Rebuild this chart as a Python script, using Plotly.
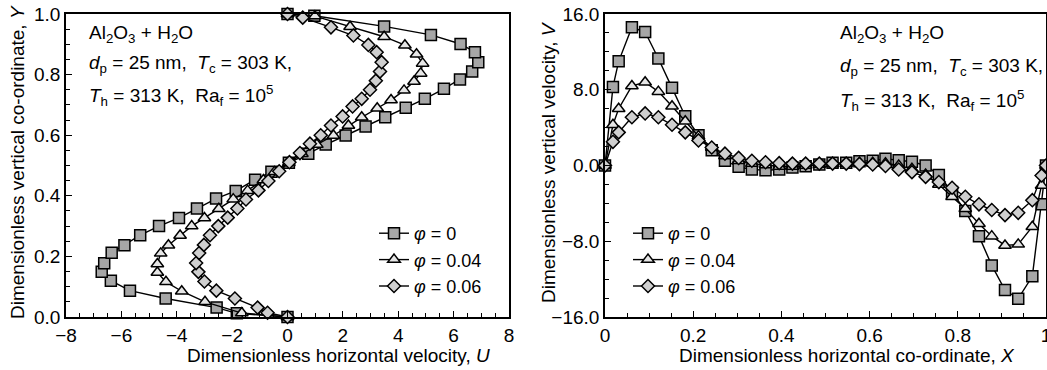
import plotly.graph_objects as go

# ---------------- Left panel: U vs Y ----------------
Y_sq = [0, 0.012, 0.031, 0.061, 0.087, 0.12, 0.149, 0.177, 0.212, 0.237, 0.27, 0.30, 0.327, 0.358, 0.391,
        0.416, 0.453, 0.479, 0.509, 0.539, 0.569, 0.599, 0.629, 0.659, 0.691, 0.72, 0.753, 0.784, 0.81,
        0.841, 0.874, 0.901, 0.931, 0.959, 0.994, 1.0]
U_sq = [0, -1.83, -2.56, -4.40, -5.69, -6.38, -6.71, -6.62, -6.35, -5.89, -5.32, -4.64, -3.92, -3.27, -2.58,
        -1.87, -1.17, -0.58, 0.05, 0.75, 1.38, 2.10, 2.82, 3.53, 4.27, 4.96, 5.65, 6.23, 6.67,
        6.89, 6.77, 6.25, 5.18, 3.49, 0.97, 0]

Y_tr = [0, 0.013, 0.05, 0.085, 0.116, 0.147, 0.175, 0.21, 0.237, 0.269, 0.30, 0.327, 0.357, 0.389, 0.417,
        0.452, 0.479, 0.509, 0.539, 0.569, 0.599, 0.632, 0.659, 0.689, 0.716, 0.748, 0.777, 0.804, 0.837,
        0.867, 0.897, 0.925, 0.958, 0.993, 1.0]
U_tr = [0, -1.65, -2.98, -3.82, -4.39, -4.70, -4.70, -4.58, -4.30, -3.88, -3.46, -3.00, -2.48, -1.96, -1.44,
        -0.87, -0.47, 0.05, 0.52, 1.06, 1.66, 2.20, 2.68, 3.24, 3.74, 4.21, 4.57, 4.81, 4.88,
        4.66, 4.24, 3.49, 2.26, 0.99, 0]

Y_di = [0, 0.014, 0.031, 0.061, 0.087, 0.117, 0.149, 0.178, 0.211, 0.238, 0.27, 0.30, 0.328, 0.358, 0.388,
        0.418, 0.449, 0.481, 0.511, 0.541, 0.572, 0.60, 0.632, 0.662, 0.695, 0.72, 0.75, 0.78, 0.81,
        0.841, 0.874, 0.898, 0.929, 0.956, 0.988, 1.0]
U_di = [0, -0.72, -1.08, -1.90, -2.57, -3.00, -3.22, -3.30, -3.19, -3.02, -2.80, -2.50, -2.16, -1.81, -1.50,
        -1.05, -0.69, -0.30, 0.07, 0.45, 0.81, 1.20, 1.57, 1.99, 2.35, 2.68, 2.98, 3.19, 3.34,
        3.40, 3.22, 2.92, 2.38, 1.57, 0.55, 0]

# ---------------- Right panel: X vs V ----------------
X_grid = [0, 0.018, 0.031, 0.061, 0.091, 0.121, 0.152, 0.182, 0.212, 0.242, 0.272, 0.303, 0.333, 0.364,
          0.395, 0.425, 0.455, 0.486, 0.516, 0.547, 0.577, 0.607, 0.636, 0.666, 0.696, 0.727, 0.757,
          0.787, 0.817, 0.848, 0.877, 0.907, 0.937, 0.969, 0.99, 1.0]
V_sq = [0, 8.3, 11.0, 14.6, 14.1, 11.3, 8.2, 5.2, 3.2, 1.6, 0.5, -0.14, -0.42, -0.5,
        -0.42, -0.2, -0.07, 0.1, 0.28, 0.28, 0.46, 0.5, 0.7, 0.56, 0.39, 0.0, -1.0,
        -2.8, -4.8, -7.46, -10.55, -13.15, -14.06, -11.7, -4.1, 0]
V_tr = [0, 4.3, 6.0, 8.4, 8.8, 7.8, 6.26, 4.67, 3.1, 1.9, 1.0, 0.5, 0.2, 0.05,
        -0.1, -0.1, 0.0, 0.1, 0.15, 0.2, 0.3, 0.3, 0.25, 0.0, -0.35, -0.95, -2.0,
        -3.3, -4.57, -6.15, -7.46, -8.44, -8.33, -6.47, -2.1, 0]
V_di = [0, 2.5, 3.5, 5.1, 5.5, 5.1, 4.3, 3.5, 2.65, 1.9, 1.25, 0.8, 0.5, 0.35,
        0.25, 0.2, 0.2, 0.2, 0.2, 0.2, 0.15, 0.1, -0.05, -0.42, -0.7, -1.2, -1.75,
        -2.35, -3.3, -4.1, -4.7, -5.24, -5.0, -3.66, -1.05, 0]

names = ["<i>φ</i> = 0", "<i>φ</i> = 0.04", "<i>φ</i> = 0.06"]
symbols = ["square", "triangle-up", "diamond"]
fills = ["#a6a6a6", "#e6e6e6", "#cfcfcf"]
sizes = [11, 11, 10]

FONT = "Liberation Sans, Arial, sans-serif"
W, H = 1047, 370

fig = go.Figure()

left_data = [(U_sq, Y_sq), (U_tr, Y_tr), (U_di, Y_di)]
right_data = [V_sq, V_tr, V_di]

for i in range(3):
    xs, ys = left_data[i]
    fig.add_trace(go.Scatter(
        x=xs, y=ys, mode="lines+markers", name=names[i], legend="legend",
        line=dict(color="black", width=1.4),
        marker=dict(symbol=symbols[i], size=sizes[i], color=fills[i], line=dict(color="black", width=1.5)),
        xaxis="x", yaxis="y", cliponaxis=False))

for i in range(3):
    fig.add_trace(go.Scatter(
        x=X_grid, y=right_data[i], mode="lines+markers", name=names[i], legend="legend2",
        line=dict(color="black", width=1.4),
        marker=dict(symbol=symbols[i], size=sizes[i], color=fills[i], line=dict(color="black", width=1.5)),
        xaxis="x2", yaxis="y2", cliponaxis=False))

ydom = [1 - 317 / H, 1 - 14 / H]
axis_common = dict(showline=True, linecolor="black", linewidth=1.5, mirror=True, ticks="inside",
                   ticklen=6, tickwidth=1.2, tickcolor="black", showgrid=False, zeroline=False,
                   tickfont=dict(family=FONT, size=19, color="black"), automargin=False,
                   ticklabeloverflow="allow")
legend_common = dict(xanchor="left", yanchor="top", bgcolor="rgba(0,0,0,0)",
                     font=dict(family=FONT, size=18, color="black"), itemwidth=30)

fig.update_layout(
    width=W, height=H, margin=dict(l=0, r=0, t=0, b=0),
    paper_bgcolor="white", plot_bgcolor="white",
    font=dict(family=FONT, size=19, color="black"),
    xaxis=dict(domain=[66 / W, 509 / W], range=[-8, 8], dtick=2, anchor="y",
               minor=dict(dtick=0.5, ticks="inside", ticklen=4, tickcolor="black"), **axis_common),
    yaxis=dict(domain=ydom, range=[0, 1], dtick=0.2, tickformat=".1f", anchor="x",
               minor=dict(dtick=0.05, ticks="inside", ticklen=4, tickcolor="black"), **axis_common),
    xaxis2=dict(domain=[605 / W, 1046 / W], range=[0, 1], dtick=0.2, anchor="y2",
                minor=dict(dtick=0.05, ticks="inside", ticklen=4, tickcolor="black"), **axis_common),
    yaxis2=dict(domain=ydom, range=[-16, 16], dtick=8, tickformat=".1f", anchor="x2",
                minor=dict(dtick=2, ticks="inside", ticklen=4, tickcolor="black"), **axis_common),
    legend=dict(x=374 / W, y=1 - 215 / H, **legend_common),
    legend2=dict(x=628 / W, y=1 - 215 / H, **legend_common),
    showlegend=True,
)

# axis titles as positioned text
titles = [
    ("Dimensionless horizontal velocity, <i>U</i>", 338, 355, 0),
    ("Dimensionless horizontal co-ordinate, <i>X</i>", 847, 355, 0),
    ("Dimensionless vertical co-ordinate, <i>Y</i>", 17, 162, -90),
    ("Dimensionless vertical velocity, <i>V</i>", 548, 162, -90),
]
for txt, px, py, ang in titles:
    fig.add_annotation(text=txt, x=px / W, y=1 - py / H, xref="paper", yref="paper", xanchor="center",
                       yanchor="middle", textangle=ang, showarrow=False,
                       font=dict(family=FONT, size=19, color="black"))

ann_lines = ["Al<sub>2</sub>O<sub>3</sub> + H<sub>2</sub>O",
             "<i>d</i><sub>p</sub> = 25 nm,  <i>T</i><sub>c</sub> = 303 K,",
             "<i>T</i><sub>h</sub> = 313 K,  Ra<sub>f</sub> = 10<sup>5</sup>"]
left_ys = [34, 64, 95]
right_ys = [34, 67, 100]
for txt, yl, yr in zip(ann_lines, left_ys, right_ys):
    fig.add_annotation(text=txt, x=87 / W, y=1 - yl / H, xref="paper", yref="paper", xanchor="left",
                       yanchor="middle", showarrow=False, font=dict(family=FONT, size=19, color="black"))
    fig.add_annotation(text=txt, x=838 / W, y=1 - yr / H, xref="paper", yref="paper", xanchor="left",
                       yanchor="middle", showarrow=False, font=dict(family=FONT, size=19, color="black"))

fig.write_html("out.html", config={"displayModeBar": False},
               post_script="document.body.style.margin='0px';")
